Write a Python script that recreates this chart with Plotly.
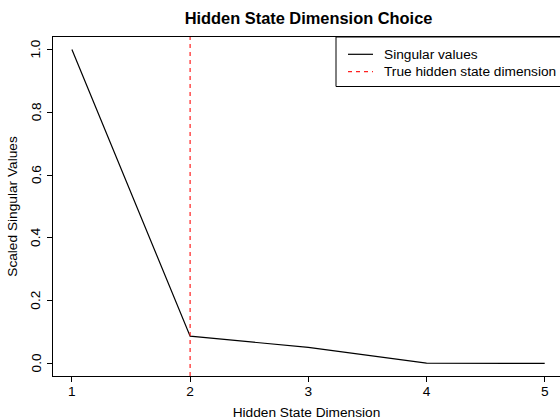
import plotly.graph_objects as go

dims = [1, 2, 3, 4, 5]
scaled_sv = [1.0, 0.087, 0.051, 0.001, 0.0]
true_dim = 2
x_ticks = [1, 2, 3, 4, 5]
y_ticks = [0.0, 0.2, 0.4, 0.6, 0.8, 1.0]
legend_labels = ["Singular values", "True hidden state dimension"]

W, H = 560, 420
L, R, T, B = 53, 0, 37, 44
pw = W - L - R
ph = H - T - B

def px2x(px):
    return (px - L) / pw

def py2y(py):
    return 1 - (py - T) / ph

FONT = "Liberation Sans, Arial, sans-serif"
FS = 13.7

fig = go.Figure()
fig.add_trace(go.Scatter(x=dims, y=scaled_sv, mode="lines",
                         line=dict(color="black", width=1.2), showlegend=False))
fig.add_vline(x=true_dim, line=dict(color="#ff2020", width=1.2, dash="4px,4px"))

shapes = [
    dict(type="rect", xref="paper", yref="paper", x0=px2x(336), x1=px2x(600),
         y0=py2y(86.5), y1=py2y(37), line=dict(color="black", width=1),
         fillcolor="white", layer="above"),
    dict(type="line", xref="paper", yref="paper", x0=px2x(348), x1=px2x(373),
         y0=py2y(54.3), y1=py2y(54.3), line=dict(color="black", width=1.2)),
    dict(type="line", xref="paper", yref="paper", x0=px2x(348), x1=px2x(373),
         y0=py2y(71.7), y1=py2y(71.7), line=dict(color="#ff2020", width=1.2, dash="4px,4px")),
]
for s in shapes:
    fig.add_shape(**s)

for lab, yy in zip(legend_labels, [54.3, 71.7]):
    fig.add_annotation(xref="paper", yref="paper", x=px2x(382), y=py2y(yy),
                       text=lab, showarrow=False, xanchor="left", yanchor="middle",
                       font=dict(family=FONT, size=FS, color="black"))

# y tick labels, rotated as in R, placed through the y scale
for v in y_ticks:
    fig.add_annotation(xref="paper", yref="y", x=px2x(36), y=v, text=f"{v:.1f}",
                       textangle=-90, showarrow=False, xanchor="center", yanchor="middle",
                       font=dict(family=FONT, size=FS, color="black"))

fig.update_layout(
    width=W, height=H,
    margin=dict(l=L, r=R, t=T, b=B, autoexpand=False),
    paper_bgcolor="white", plot_bgcolor="white",
    title=dict(text="<b>Hidden State Dimension Choice</b>", x=(L + 564) / 2 / W, xanchor="center",
               y=1 - 18 / H, yanchor="middle",
               font=dict(family=FONT, size=16.4, color="black")),
    font=dict(family=FONT, size=FS, color="black"),
)
fig.update_xaxes(range=[0.84, 0.84 + pw / 118.2], tickvals=x_ticks, ticktext=[str(v) for v in x_ticks],
                 automargin=False, ticklabelstandoff=-2,
                 showgrid=False, zeroline=False, showline=True, linecolor="black", linewidth=1,
                 mirror=True, ticks="outside", ticklen=5, tickcolor="black",
                 title=dict(text="Hidden State Dimension", standoff=10,
                            font=dict(family=FONT, size=FS)))
fig.update_yaxes(range=[-0.04, 1.04], tickvals=y_ticks, showticklabels=False,
                 automargin=False,
                 showgrid=False, zeroline=False, showline=True, linecolor="black", linewidth=1,
                 ticks="outside", ticklen=5, tickcolor="black",
                 title=dict(text="Scaled Singular Values", standoff=26,
                            font=dict(family=FONT, size=FS)))

fig.write_html("out.html", config={"displayModeBar": False},
               post_script="document.body.style.margin='0';")
